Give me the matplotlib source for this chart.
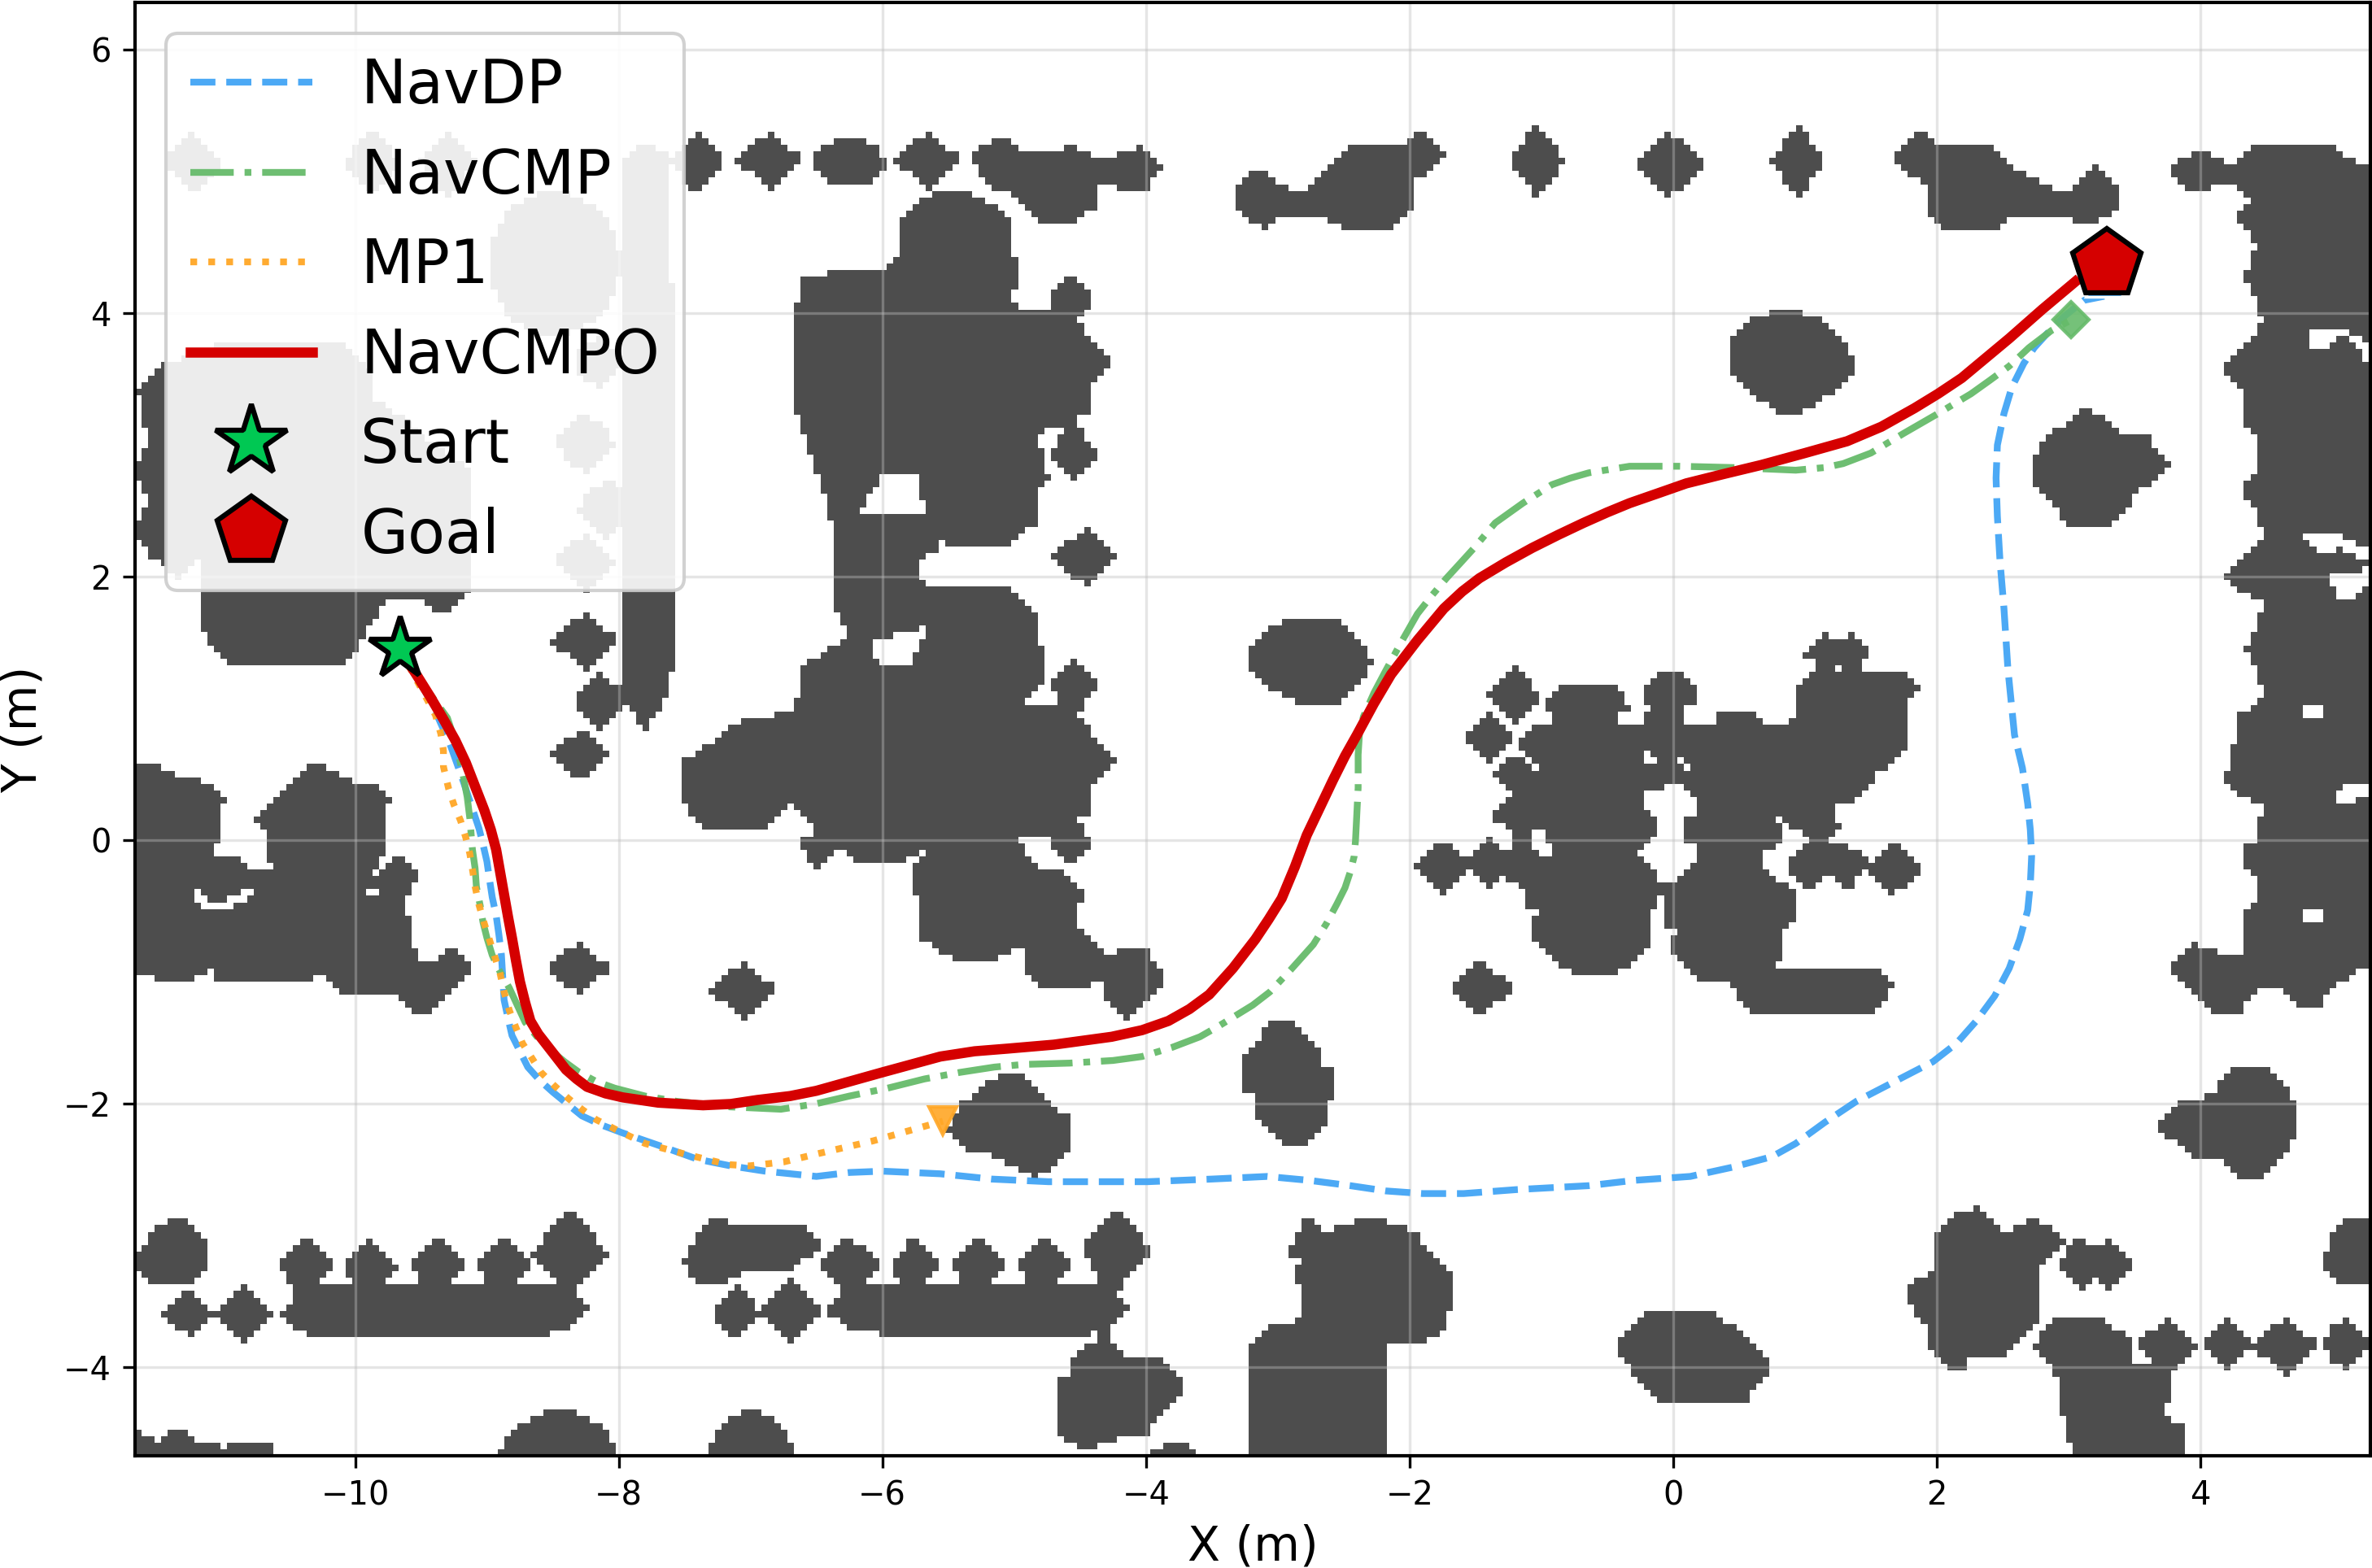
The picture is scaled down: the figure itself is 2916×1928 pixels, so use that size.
import numpy as np
import matplotlib
matplotlib.use("Agg")
import matplotlib.pyplot as plt
from matplotlib.colors import ListedColormap
from matplotlib.path import Path

# Occupancy map geometry, metres. Rounded lumps: (x, y, half-width, half-height)
DIAMONDS = [
    (-11.23, 5.14, .22, .24), (-9.87, 5.14, .22, .24), (-9.3, 5.14, .22, .24), (-7.4, 5.14, .21, .23),
    (-6.85, 5.16, .25, .22), (-5.65, 5.16, .25, .22), (-1.03, 5.16, .21, .27), (-.03, 5.13, .27, .25),
    (.95, 5.16, .2, .27), (-8.15, 3.63, .21, .21), (-8.25, 3.01, .24, .24), (-8.09, 2.52, .23, .23),
    (-8.25, 2.11, .24, .23), (-8.25, 1.51, .25, .22), (-8.15, 1.05, .19, .23), (-8.28, .65, .22, .2),
    (-4.55, 2.94, .19, .22), (-4.46, 2.15, .24, .22), (-4.55, 1.17, .19, .22),
    (-8.31, -.97, .25, .19), (-7.05, -1.14, .25, .22), (-1.21, 1.1, .2, .22), (-1.41, .78, .19, .19),
    (-1.73, -.2, .22, .21), (-1.41, -.17, .17, .21), (-1.46, -1.12, .25, .2), (1.67, -.21, .22, .21),
    (-11.26, -3.59, .2, .18), (-10.84, -3.59, .22, .22), (-10.38, -3.23, .22, .22), (-9.89, -3.23, .21, .22),
    (-9.38, -3.23, .22, .22), (-8.88, -3.23, .22, .22), (-8.37, -3.13, .29, .31),
    (-7.11, -3.58, .19, .2), (-6.69, -3.58, .24, .24), (-6.25, -3.23, .24, .22), (-5.76, -3.23, .19, .22),
    (-5.28, -3.23, .22, .22), (-4.78, -3.23, .22, .22), (-4.23, -3.11, .27, .32),
    (3.09, -3.21, .18, .2), (3.3, -3.21, .2, .2), (3.75, -3.84, .24, .22), (4.2, -3.82, .2, .2),
    (4.65, -3.84, .25, .22), (5.09, -3.82, .2, .2),
]
ELLIPSES = [
    (-6.25, 5.14, .27, .18), (-8.49, 4.38, .5, .54), (-8.45, -4.88, .5, .55), (-7.0, -4.85, .36, .52),
    (-3.78, -4.75, .22, .18),
]
# Narrow links between lumps and long bars: (x, half-width, y top, y bottom)
STEMS = [
    (-10.38, .08, -3.2, -3.45), (-9.89, .1, -3.2, -3.45), (-9.38, .08, -3.2, -3.45), (-8.88, .1, -3.2, -3.45),
    (-6.25, .07, -3.2, -3.45), (-5.76, .07, -3.2, -3.45), (-5.28, .08, -3.2, -3.45), (-4.78, .08, -3.2, -3.45),
    (-4.3, .07, -3.2, -3.45),
]
WALL_RIGHT = [
    (3.77, 5.09), (3.97, 5.26), (4.22, 5.12), (4.39, 5.26), (5.0, 5.26), (5.18, 5.14), (5.4, 5.09), (5.4, -.97),
    (5.21, -.97), (5.0, -1.13), (4.87, -1.29), (4.78, -1.29), (4.57, -1.11), (4.42, -1.15), (4.28, -1.33),
    (4.13, -1.33), (3.94, -1.13), (3.77, -.97), (3.94, -.79), (4.08, -.81), (4.22, -.89), (4.33, -.85),
    (4.33, -.57), (4.42, -.48), (4.42, -.26), (4.33, -.2), (4.33, -.06), (4.42, 0), (4.42, .12), (4.51, .24),
    (4.33, .32), (4.17, .46), (4.22, .57), (4.28, .81), (4.28, .94), (4.48, 1.08), (4.42, 1.29), (4.33, 1.45),
    (4.42, 1.61), (4.48, 1.79), (4.17, 1.99), (4.31, 2.15), (4.48, 2.29), (4.42, 2.5), (4.33, 2.61), (4.33, 2.71),
    (4.42, 2.78), (4.42, 3.07), (4.31, 3.17), (4.31, 3.42), (4.17, 3.58), (4.48, 3.94), (4.42, 3.99), (4.42, 4.13),
    (4.33, 4.27), (4.42, 4.52), (4.28, 4.73), (4.39, 4.88), (4.21, 5.0), (3.95, 4.91),
]
BLOB_CENTRE = [
    (-.98, 1.02), (-.87, 1.15), (-.81, 1.19), (-.48, 1.19), (-.37, 1.09), (-.32, 1.02), (-.43, .94), (-.43, .9),
    (-.23, .9), (-.18, .99), (-.23, 1.05), (-.23, 1.15), (-.07, 1.3), (.02, 1.3), (.18, 1.15), (.18, 1.05), (.07, 1.0),
    (.07, .9), (.32, .9), (.38, 1.0), (.63, 1.0), (.68, .9), (.88, .9), (.93, 1.0), (.93, 1.15), (1.07, 1.3), (1.07, 1.35),
    (.98, 1.42), (1.15, 1.59), (1.24, 1.5), (1.36, 1.59), (1.52, 1.42), (1.43, 1.35), (1.43, 1.3), (1.73, 1.3), (1.88, 1.13),
    (1.78, 1.05), (1.78, .7), (1.63, .55), (1.52, .54), (1.52, .46), (1.38, .3), (1.27, .3), (1.23, .21), (1.27, .11),
    (1.18, .01), (1.18, -.05), (1.29, 0), (1.43, -.11), (1.48, -.15), (1.43, -.26), (1.32, -.39), (1.22, -.29), (1.13, -.29),
    (1.05, -.39), (.93, -.29), (.88, -.24), (.88, -.15), (.98, -.05), (1.02, .01), (.93, .09), (.83, .15), (.78, .2),
    (.83, .03), (.78, -.03), (.68, -.11), (.68, -.19), (.78, -.29), (.93, -.39), (.93, -.5), (.97, -.52), (.88, -.64),
    (.83, -.69), (.83, -.9), (.77, -.95), (1.52, -.95), (1.68, -1.11), (1.52, -1.3), (.57, -1.3), (.42, -1.09), (.23, -1.09),
    (.07, -.95), (-.02, -.84), (-.02, -.74), (.02, -.69), (-.07, -.64), (-.07, -.44), (-.12, -.44), (-.12, -.54), (-.17, -.55),
    (-.17, -.79), (-.32, -.95), (-.43, -1.0), (-.78, -1.0), (-.93, -.9), (-1.03, -.79), (-1.08, -.69), (-1.03, -.55),
    (-1.13, -.49), (-1.13, -.35), (-1.23, -.34), (-1.34, -.25), (-1.3, -.12), (-1.23, -.05), (-1.23, .05), (-1.34, .15),
    (-1.37, .18), (-1.28, .3), (-1.23, .34), (-1.32, .46), (-1.37, .49), (-1.28, .6), (-1.19, .65), (-1.13, .65), (-1.18, .73),
    (-1.08, .85), (-.93, .91), (-.93, .99),
]
BLOB_TREES = [
    (-6.63, 4.29), (-5.98, 4.34), (-5.88, 4.45), (-5.88, 4.7), (-5.72, 4.86), (-5.62, 4.91), (-5.33, 4.91), (-5.17, 4.84),
    (-5.03, 4.7), (-5.03, 4.45), (-4.98, 4.45), (-4.98, 4.17), (-5.03, 4.15), (-4.93, 4.01), (-4.68, 4.01), (-4.73, 4.13),
    (-4.56, 4.31), (-4.38, 4.13), (-4.48, 4.01), (-4.52, 3.95), (-4.42, 3.81), (-4.23, 3.63), (-4.43, 3.46), (-4.43, 3.24),
    (-4.52, 3.21), (-4.52, 3.1), (-4.72, 3.16), (-4.85, 3.03), (-4.78, 2.94), (-4.74, 2.75), (-4.83, 2.66), (-4.83, 2.41),
    (-4.97, 2.3), (-5.09, 2.21), (-5.43, 2.21), (-5.56, 2.3), (-5.58, 2.21), (-5.72, 2.11), (-5.68, 1.9), (-5.48, 1.95),
    (-5.09, 1.95), (-4.83, 1.7), (-4.83, 1.54), (-4.78, 1.49), (-4.78, 1.22), (-4.91, 1.05), (-4.68, 1.05), (-4.44, .9),
    (-4.43, .81), (-4.23, .59), (-4.42, .4), (-4.42, .2), (-4.52, .16), (-4.44, .04), (-4.38, -.02), (-4.56, -.19), (-4.74, -.02),
    (-4.68, .04), (-4.93, .04), (-4.97, 0), (-4.83, -.2), (-4.6, -.25), (-4.43, -.42), (-4.54, -.5), (-4.54, -.61), (-4.28, -.87),
    (-4.15, -.8), (-4.03, -.8), (-3.88, -.97), (-3.88, -1.13), (-4.07, -1.29), (-4.15, -1.35), (-4.32, -1.17), (-4.32, -1.05),
    (-4.46, -1.13), (-4.78, -1.14), (-4.91, -1.01), (-4.93, -.79), (-5.19, -.94), (-5.43, -.94), (-5.72, -.73), (-5.72, -.44),
    (-5.78, -.4), (-5.78, -.2), (-5.64, -.06), (-5.92, -.18), (-6.02, -.18), (-6.17, -.18), (-6.33, -.05), (-6.5, -.2),
    (-6.65, -.02), (-6.5, .05), (-6.69, .3), (-6.93, .06), (-7.36, .06), (-7.52, .3), (-7.52, .6), (-7.05, .92), (-6.66, .98),
    (-6.6, 1.32), (-6.26, 1.55), (-6.35, 1.72), (-6.37, 2.35), (-6.54, 2.93), (-6.69, 3.39),
]
BLOB_NW = [
    (-11.65, 3.42), (-11.47, 3.6), (-10.93, 3.8), (-10.13, 3.8), (-9.89, 3.6), (-9.89, 3.35), (-9.83, 3.35), (-9.14, 2.82),
    (-9.14, 1.86), (-9.34, 1.72), (-9.5, 1.81), (-9.73, 1.84), (-9.89, 1.65), (-9.97, 1.44), (-10.09, 1.31), (-10.93, 1.31),
    (-11.09, 1.47), (-11.19, 1.68), (-11.19, 2.11), (-11.35, 2.0), (-11.55, 2.15), (-11.7, 2.36), (-11.55, 2.57),
    (-11.7, 2.82), (-11.55, 3.03), (-11.62, 3.17),
]
BLOB_WEST = [
    (-11.7, .57), (-11.55, .6), (-11.39, .51), (-11.13, .45), (-10.99, .3), (-11.04, .22), (-11.04, 0), (-11.09, -.11),
    (-10.92, -.1), (-10.78, -.24), (-10.64, -.2), (-10.69, -.02), (-10.69, .08), (-10.78, .14), (-10.6, .3), (-10.3, .6),
    (-10.05, .46), (-9.85, .44), (-9.73, .3), (-9.78, .2), (-9.78, -.1), (-9.88, -.28), (-9.65, -.1), (-9.49, -.28), (-9.63, -.44),
    (-9.57, -.69), (-9.53, -.93), (-9.38, -.93), (-9.26, -.8), (-9.08, -.97), (-9.44, -1.34), (-9.53, -1.33), (-9.69, -1.15),
    (-10.13, -1.15), (-10.26, -.99), (-10.36, -1.09), (-11.03, -1.09), (-11.09, -.99), (-11.31, -1.09), (-11.51, -1.05), (-11.7, -.99),
]
OTHER_OBSTACLES = [
    # top row
    [(-5.33, 5.2), (-5.11, 5.35), (-4.93, 5.23), (-4.54, 5.26), (-4.32, 5.16), (-4.15, 5.23), (-4.03, 5.26), (-3.88, 5.09),
     (-4.03, 4.91), (-4.18, 4.91), (-4.32, 5.02), (-4.36, 4.96), (-4.38, 4.8), (-4.54, 4.7), (-4.78, 4.66), (-4.97, 4.86),
     (-5.03, 4.91), (-5.13, 4.91), (-5.33, 5.16)],
    [(-3.33, 4.95), (-3.16, 5.11), (-2.94, 4.96), (-2.93, 4.91), (-2.83, 4.91), (-2.67, 5.04), (-2.47, 5.26), (-2.08, 5.26),
     (-1.92, 5.41), (-1.72, 5.21), (-1.88, 5.02), (-1.98, 5.0), (-1.98, 4.77), (-2.14, 4.61), (-2.47, 4.61), (-2.57, 4.7),
     (-2.93, 4.75), (-3.08, 4.65), (-3.18, 4.66), (-3.33, 4.82)],
    [(1.67, 5.21), (1.86, 5.41), (2.01, 5.27), (2.42, 5.26), (2.55, 5.12), (2.87, 4.96), (2.98, 4.91), (3.2, 5.11), (3.38, 4.95),
     (3.38, 4.82), (3.2, 4.66), (3.02, 4.7), (2.94, 4.75), (2.55, 4.75), (2.48, 4.66), (2.42, 4.61), (2.08, 4.61), (1.93, 4.75),
     (1.93, 5.0), (1.83, 5.02), (1.67, 5.16)],
    # column by the legend
    [(-7.95, 5.2), (-7.8, 5.3), (-7.6, 5.2), (-7.58, 1.4), (-7.62, 1.1), (-7.8, .83), (-8.0, 1.1), (-7.98, 1.4)],
    # free-standing lumps
    [(-3.23, 1.44), (-3.08, 1.6), (-2.87, 1.7), (-2.57, 1.7), (-2.37, 1.51), (-2.28, 1.33), (-2.47, 1.1), (-2.53, 1.05),
     (-2.87, 1.05), (-3.08, 1.17), (-3.23, 1.31)],
    [(.42, 3.78), (.57, 3.95), (.73, 4.01), (.98, 4.01), (1.12, 3.95), (1.32, 3.74), (1.38, 3.63), (1.36, 3.53), (1.11, 3.32),
     (.93, 3.21), (.82, 3.21), (.57, 3.42), (.42, 3.58)],
    [(2.72, 2.91), (2.84, 3.05), (3.12, 3.3), (3.23, 3.24), (3.38, 3.1), (3.57, 3.1), (3.72, 2.93), (3.77, 2.87), (3.77, 2.82),
     (3.52, 2.64), (3.38, 2.43), (3.23, 2.36), (3.03, 2.36), (2.91, 2.5), (2.72, 2.71)],
    [(-3.28, -1.66), (-3.02, -1.35), (-2.89, -1.35), (-2.67, -1.62), (-2.63, -1.74), (-2.58, -1.74), (-2.58, -1.94), (-2.63, -1.96),
     (-2.63, -2.18), (-2.79, -2.34), (-2.93, -2.34), (-3.18, -2.08), (-3.18, -1.94), (-3.28, -1.88)],
    [(-5.39, -1.98), (-5.17, -1.82), (-5.01, -1.74), (-4.81, -1.9), (-4.72, -2.0), (-4.58, -2.1), (-4.58, -2.38), (-4.74, -2.53),
     (-4.87, -2.55), (-5.29, -2.34), (-5.33, -2.4), (-5.52, -2.22)],
    [(3.67, -2.16), (3.83, -2.0), (4.03, -1.95), (4.08, -1.94), (4.22, -1.74), (4.53, -1.74), (4.67, -1.9), (4.73, -2.06),
     (4.73, -2.18), (4.67, -2.34), (4.48, -2.55), (4.28, -2.55), (4.12, -2.4), (3.94, -2.4), (3.77, -2.26)],
    # lower rows
    [(-11.7, -3.19), (-11.51, -2.95), (-11.35, -2.85), (-11.13, -3.03), (-11.13, -3.17), (-11.09, -3.21), (-11.19, -3.31),
     (-11.31, -3.39), (-11.51, -3.37), (-11.7, -3.25)],
    [(-10.58, -3.57), (-10.32, -3.39), (-8.35, -3.39), (-8.23, -3.54), (-8.35, -3.7), (-8.63, -3.78), (-9.85, -3.78), (-10.44, -3.74)],
    [(-7.52, -3.21), (-7.38, -2.95), (-7.23, -2.85), (-7.17, -2.9), (-6.62, -2.9), (-6.45, -3.03), (-6.5, -3.13), (-6.69, -3.25),
     (-7.03, -3.25), (-7.17, -3.35), (-7.38, -3.37)],
    [(-6.43, -3.57), (-6.3, -3.39), (-4.23, -3.39), (-4.13, -3.55), (-4.3, -3.72), (-4.6, -3.78), (-6.2, -3.74)],
    [(-4.32, -3.7), (-4.18, -3.9), (-3.89, -3.9), (-3.73, -4.08), (-3.73, -4.18), (-3.99, -4.5), (-4.18, -4.53), (-4.44, -4.63),
     (-4.58, -4.57), (-4.68, -4.48), (-4.68, -4.1), (-4.58, -4.06), (-4.58, -3.92), (-4.38, -3.8)],
    [(-2.93, -3.11), (-2.77, -2.85), (-2.63, -2.97), (-2.3, -2.85), (-1.98, -2.95), (-1.69, -3.29), (-1.69, -3.56), (-1.72, -3.68),
     (-1.9, -3.84), (-2.18, -3.84), (-2.18, -4.75), (-3.23, -4.75), (-3.23, -3.84), (-3.08, -3.7), (-2.83, -3.64), (-2.83, -3.39),
     (-2.89, -3.31), (-2.83, -3.19), (-2.93, -3.13)],
    [(1.77, -3.41), (1.97, -3.25), (1.97, -2.99), (2.12, -2.85), (2.31, -2.79), (2.53, -2.99), (2.73, -2.85), (2.98, -3.03),
     (2.78, -3.23), (2.78, -3.64), (2.51, -3.94), (2.22, -3.94), (2.22, -4.04), (2.12, -4.04), (1.97, -3.9), (1.93, -3.76),
     (1.97, -3.72), (1.83, -3.58)],
    [(2.72, -3.84), (2.93, -3.6), (3.14, -3.6), (3.29, -3.64), (3.47, -3.8), (3.47, -3.98), (3.72, -3.98), (3.77, -4.1), (3.77, -4.24),
     (3.72, -4.34), (3.88, -4.46), (3.88, -4.65), (3.09, -4.75), (2.98, -4.53), (2.98, -4.44), (2.93, -4.32), (2.93, -4.14), (2.87, -4.0)],
    [(-.43, -3.85), (-.34, -3.7), (-.23, -3.6), (-.03, -3.55), (.26, -3.55), (.42, -3.66), (.76, -3.98), (.53, -4.29), (-.06, -4.29),
     (-.34, -4.0)],
    [(4.93, -3.21), (4.98, -2.99), (5.12, -2.85), (5.4, -2.85), (5.4, -3.33), (5.09, -3.39), (4.98, -3.29)],
    [(-11.7, -4.45), (-11.5, -4.55), (-11.37, -4.43), (-11.2, -4.55), (-11.0, -4.6), (-10.85, -4.55), (-10.65, -4.57),
     (-10.55, -4.75), (-11.7, -4.75)],
]
FREE_POCKETS = [
    [(-6.04, 2.8), (-5.72, 2.8), (-5.68, 2.46), (-6.07, 2.46), (-6.17, 2.52), (-6.04, 2.68)],
    [(-6.11, 1.49), (-5.72, 1.61), (-5.68, 1.65), (-5.68, 1.54), (-5.82, 1.31), (-6.02, 1.31)],
    [(-11.24, -.36), (-11.07, -.48), (-10.76, -.36), (-10.76, -.42), (-11.07, -.55), (-11.24, -.44)],
    [(-9.94, -.35), (-9.84, -.35), (-9.84, -.4), (-9.94, -.4)],
    [(4.82, 3.85), (5.07, 3.9), (5.29, 3.76), (5.29, 3.6), (5.16, 3.79), (5.03, 3.83), (4.93, 3.72), (4.82, 3.76)],
    [(4.78, 2.34), (5.03, 2.34), (5.29, 2.2), (5.29, 2.11), (5.07, 2.22), (4.93, 2.16), (4.78, 2.29)],
    [(4.93, 2.0), (5.2, 2.05), (5.29, 2.1), (5.29, 2.0), (5.2, 1.85), (5.07, 1.8), (5.0, 1.95)],
    [(4.78, 1.05), (4.93, 1.05), (4.93, .95), (4.78, .95)],
    [(4.78, -.5), (4.93, -.5), (4.93, -.6), (4.78, -.6)],
    [(4.98, .4), (5.29, .42), (5.29, .32), (5.05, .28)],
    [(-.23, .35), (-.17, .4), (-.07, .4), (.04, .45), (.07, .45), (.18, .29), (.18, .21), (.07, .15), (.07, 0), (.13, -.01), (.22, -.12),
     (.07, -.24), (.02, -.29), (-.12, -.34), (-.12, -.25), (-.27, -.12), (-.18, 0), (-.12, .01), (-.12, .15), (-.23, .25)],
    [(-.23, .7), (-.18, .7), (-.12, .6), (-.23, .6)],
    [(.02, .65), (.07, .65), (.13, .55), (.07, .55)],
    [(-1.08, .06), (-.98, .1), (-.98, -.03), (-.93, -.05), (-.93, -.1), (-1.03, -.1), (-1.08, -.03)],
    [(-1.13, .65), (-1.08, .65), (-1.03, .55), (-1.08, .55)],
    [(1.23, 1.35), (1.28, 1.35), (1.28, 1.3), (1.23, 1.3)],
]

# Trajectories, metres: (x, y) waypoints in driving order
navdp_path = [
    (-9.66, 1.45), (-9.53, 1.25), (-9.4, 1.0), (-9.28, .73), (-9.18, .45), (-9.12, .27), (-9.06, .09), (-9.03, -.03), (-9.0, -.16),
    (-8.98, -.3), (-8.96, -.43), (-8.93, -.57), (-8.91, -.71), (-8.89, -.87), (-8.88, -1.04), (-8.87, -1.21), (-8.84, -1.35),
    (-8.81, -1.48), (-8.75, -1.6), (-8.69, -1.72), (-8.6, -1.82), (-8.5, -1.91), (-8.39, -2.0), (-8.28, -2.09), (-8.13, -2.16),
    (-7.97, -2.22), (-7.68, -2.32), (-7.4, -2.42), (-7.15, -2.47), (-6.89, -2.51), (-6.5, -2.55), (-6.25, -2.52), (-6.0, -2.51),
    (-5.56, -2.53), (-5.17, -2.57), (-4.74, -2.59), (-3.99, -2.59), (-3.5, -2.57), (-3.08, -2.55), (-2.76, -2.58), (-2.45, -2.62),
    (-2.18, -2.66), (-1.9, -2.68), (-1.59, -2.68), (-1.19, -2.65), (-.64, -2.62), (-.3, -2.58), (.13, -2.55), (.45, -2.48), (.75, -2.4),
    (.93, -2.3), (1.15, -2.14), (1.39, -1.98), (1.68, -1.83), (1.97, -1.68), (2.15, -1.54), (2.3, -1.37), (2.44, -1.18), (2.55, -.97),
    (2.63, -.75), (2.69, -.53), (2.71, -.33), (2.72, -.12), (2.71, .08), (2.69, .28), (2.65, .55), (2.59, .8), (2.54, 1.3), (2.51, 1.76),
    (2.48, 2.12), (2.46, 2.46), (2.45, 2.75), (2.46, 3.0), (2.51, 3.24), (2.57, 3.44), (2.66, 3.62), (2.74, 3.74), (2.84, 3.85),
    (2.97, 3.98), (3.12, 4.1), (3.27, 4.13),
]
navcmp_path = [
    (-9.66, 1.45), (-9.43, 1.11), (-9.3, .93), (-9.23, .72), (-9.18, .49), (-9.15, .33), (-9.13, .17), (-9.12, .05), (-9.11, -.07),
    (-9.09, -.21), (-9.08, -.35), (-9.05, -.5), (-9.03, -.62), (-9.0, -.74), (-8.96, -.87), (-8.91, -.98), (-8.83, -1.12), (-8.77, -1.25),
    (-8.71, -1.38), (-8.62, -1.49), (-8.52, -1.59), (-8.41, -1.68), (-8.3, -1.76), (-8.17, -1.83), (-8.03, -1.88), (-7.8, -1.94),
    (-7.56, -1.98), (-7.2, -2.02), (-6.77, -2.04), (-6.51, -2.0), (-6.25, -1.94), (-5.96, -1.88), (-5.68, -1.81), (-5.41, -1.76),
    (-5.15, -1.72), (-4.93, -1.7), (-4.58, -1.69), (-4.25, -1.67), (-4.03, -1.64), (-3.8, -1.57), (-3.59, -1.49), (-3.45, -1.41),
    (-3.32, -1.33), (-3.19, -1.25), (-3.06, -1.15), (-2.9, -.98), (-2.73, -.79), (-2.63, -.63), (-2.55, -.48), (-2.49, -.36),
    (-2.45, -.24), (-2.42, -.12), (-2.41, 0), (-2.4, .2), (-2.39, .4), (-2.39, .65), (-2.38, .81), (-2.35, .94), (-2.27, 1.12),
    (-2.18, 1.29), (-2.06, 1.51), (-1.94, 1.72), (-1.83, 1.86), (-1.72, 1.99), (-1.61, 2.11), (-1.51, 2.22), (-1.35, 2.41), (-1.14, 2.56),
    (-.92, 2.7), (-.78, 2.75), (-.64, 2.79), (-.33, 2.84), (.05, 2.84), (.46, 2.83), (.93, 2.81), (1.15, 2.83), (1.29, 2.86), (1.5, 2.94),
    (1.75, 3.09), (2.01, 3.24), (2.26, 3.39), (2.4, 3.49), (2.55, 3.6), (2.7, 3.74), (2.87, 3.87), (3.02, 3.95),
]
mp1_path = [
    (-9.66, 1.45), (-9.47, 1.1), (-9.39, .95), (-9.35, .81), (-9.33, .68), (-9.33, .56), (-9.29, .39), (-9.25, .27), (-9.2, .15),
    (-9.16, .02), (-9.13, -.1), (-9.11, -.22), (-9.09, -.35), (-9.06, -.49), (-9.02, -.63), (-8.96, -.82), (-8.9, -1.01), (-8.87, -1.15),
    (-8.83, -1.29), (-8.78, -1.42), (-8.73, -1.54), (-8.66, -1.65), (-8.59, -1.76), (-8.49, -1.86), (-8.38, -1.96), (-8.28, -2.04),
    (-8.17, -2.12), (-7.99, -2.21), (-7.8, -2.3), (-7.5, -2.38), (-7.17, -2.46), (-7.01, -2.47), (-6.75, -2.44), (-6.5, -2.38),
    (-6.07, -2.28), (-5.54, -2.13),
]
navcmpo_path = [
    (-9.66, 1.45), (-9.53, 1.25), (-9.43, 1.09), (-9.33, .92), (-9.24, .76), (-9.16, .59), (-9.09, .41), (-9.02, .23), (-8.97, .08),
    (-8.93, -.07), (-8.9, -.24), (-8.87, -.41), (-8.84, -.58), (-8.81, -.74), (-8.78, -.91), (-8.75, -1.07), (-8.71, -1.23), (-8.67, -1.37),
    (-8.61, -1.47), (-8.54, -1.56), (-8.47, -1.65), (-8.4, -1.74), (-8.32, -1.81), (-8.24, -1.87), (-8.1, -1.92), (-7.97, -1.95),
    (-7.7, -1.99), (-7.36, -2.01), (-7.15, -2.0), (-6.95, -1.97), (-6.7, -1.94), (-6.5, -1.9), (-6.25, -1.83), (-6.0, -1.76), (-5.78, -1.7),
    (-5.56, -1.64), (-5.3, -1.6), (-5.05, -1.58), (-4.7, -1.55), (-4.26, -1.49), (-4.03, -1.44), (-3.83, -1.37), (-3.67, -1.28),
    (-3.52, -1.17), (-3.34, -.97), (-3.17, -.75), (-3.07, -.6), (-2.97, -.44), (-2.87, -.2), (-2.78, .04), (-2.68, .25), (-2.58, .46),
    (-2.49, .64), (-2.4, .8), (-2.27, 1.04), (-2.14, 1.26), (-1.94, 1.52), (-1.74, 1.76), (-1.6, 1.89), (-1.47, 1.99), (-1.27, 2.11),
    (-1.07, 2.22), (-.87, 2.32), (-.68, 2.41), (-.5, 2.49), (-.33, 2.56), (-.1, 2.64), (.1, 2.71), (.38, 2.78), (.67, 2.85), (1.0, 2.94),
    (1.32, 3.03), (1.58, 3.14), (1.83, 3.28), (2.01, 3.39), (2.19, 3.51), (2.37, 3.66), (2.55, 3.81), (2.8, 4.03), (3.05, 4.24),
]

start_xy = (-9.66, 1.45)
goal_xy = (3.29, 4.37)
navdp_end = (3.27, 4.27)
navcmp_end = (3.02, 3.95)
mp1_end = (-5.54, -2.13)
navcmpo_end = (3.2, 4.31)

METHOD_LABELS = ["NavDP", "NavCMP", "MP1", "NavCMPO"]
X_TICKS = [-10, -8, -6, -4, -2, 0, 2, 4]
Y_TICKS = [-4, -2, 0, 2, 4, 6]

BLUE, GREEN, ORANGE, RED = "#42A5F5", "#66BB6A", "#FFA726", "#D50000"
X_LIMITS = (-11.67, 5.29)
Y_LIMITS = (-4.67, 6.36)
CELL = 0.05


def build_occupancy():
    """Rasterise the obstacle outlines onto a fixed-resolution grid."""
    xs = np.arange(X_LIMITS[0] - CELL, X_LIMITS[1] + 2 * CELL, CELL)
    ys = np.arange(Y_LIMITS[0] - CELL, Y_LIMITS[1] + 2 * CELL, CELL)
    gx, gy = np.meshgrid(xs + CELL / 2, ys + CELL / 2)
    pts = np.column_stack([gx.ravel(), gy.ravel()])
    grid = np.zeros(gx.shape, dtype=bool)

    def fill_poly(poly):
        return Path(poly).contains_points(pts).reshape(gx.shape)

    for x, y, rx, ry in DIAMONDS:
        grid |= (np.abs(gx - x) / rx) ** 1.08 + (np.abs(gy - y) / ry) ** 1.08 <= 1
    for x, y, rx, ry in ELLIPSES:
        grid |= ((gx - x) / rx) ** 2 + ((gy - y) / ry) ** 2 <= 1
    for x, hw, top, bottom in STEMS:
        grid |= (np.abs(gx - x) <= hw) & (gy <= top) & (gy >= bottom)
    for poly in [WALL_RIGHT, BLOB_CENTRE, BLOB_TREES, BLOB_NW, BLOB_WEST] + OTHER_OBSTACLES:
        grid |= fill_poly(poly)
    for poly in FREE_POCKETS:
        grid &= ~fill_poly(poly)
    extent = (xs[0], xs[-1] + CELL, ys[0], ys[-1] + CELL)
    return grid, extent


W, H = 2916, 1928
fig = plt.figure(figsize=(W / 300, H / 300), dpi=300)
ax = fig.add_axes([166 / W, 1 - 1790 / H, (2914 - 166) / W, (1790 - 3) / H])

occupancy, extent = build_occupancy()
ax.imshow(occupancy.astype(float), origin="lower", extent=extent, interpolation="nearest",
          cmap=ListedColormap(["white", "#4d4d4d"]), vmin=0, vmax=1, aspect="auto", zorder=0)

ax.plot(*zip(*navdp_path), "--", color=BLUE, lw=2, alpha=0.95, label=METHOD_LABELS[0], zorder=3)
ax.plot(*zip(*navcmp_path), "-.", color=GREEN, lw=2, alpha=0.95, label=METHOD_LABELS[1], zorder=3.1)
ax.plot(*zip(*mp1_path), ":", color=ORANGE, lw=2, alpha=0.95, label=METHOD_LABELS[2], zorder=3.2)
ax.plot(*zip(*navcmpo_path), "-", color=RED, lw=3, label=METHOD_LABELS[3], zorder=3.5)

ax.plot(*navdp_end, "^", color=BLUE, ms=11, mec="white", mew=0.8, zorder=3.6)
ax.plot(*navcmp_end, "D", color=GREEN, ms=7.5, alpha=0.9, zorder=3.6)
ax.plot(*mp1_end, "v", color=ORANGE, ms=8, alpha=0.9, zorder=3.6)
ax.plot(*navcmpo_end, "<", color=RED, ms=10, mec="white", mew=0.8, zorder=3.7)

ax.plot(*start_xy, "*", color="#00C853", mec="black", mew=1.5, ms=19, ls="none", label="Start", zorder=5)
ax.plot(*goal_xy, "p", color=RED, mec="black", mew=1.5, ms=21, ls="none", label="Goal", zorder=5)

ax.set_xlim(*X_LIMITS)
ax.set_ylim(*Y_LIMITS)
ax.set_xticks(X_TICKS)
ax.set_yticks(Y_TICKS)
ax.tick_params(labelsize=9.6)
ax.grid(True, color="#bebebe", alpha=0.4, lw=0.8)
ax.set_xlabel("X (m)", fontsize=14, labelpad=3.5)
ax.set_ylabel("Y (m)", fontsize=14, labelpad=5)
for spine in ax.spines.values():
    spine.set_linewidth(1.0)

leg = ax.legend(loc="upper left", fontsize=18, framealpha=0.9, edgecolor="#cccccc")
leg.get_frame().set_linewidth(1.0)
leg.set_zorder(10)
leg.legend_handles[4].set_markersize(22)
leg.legend_handles[5].set_markersize(21)

fig.savefig("out.png", dpi=300)
